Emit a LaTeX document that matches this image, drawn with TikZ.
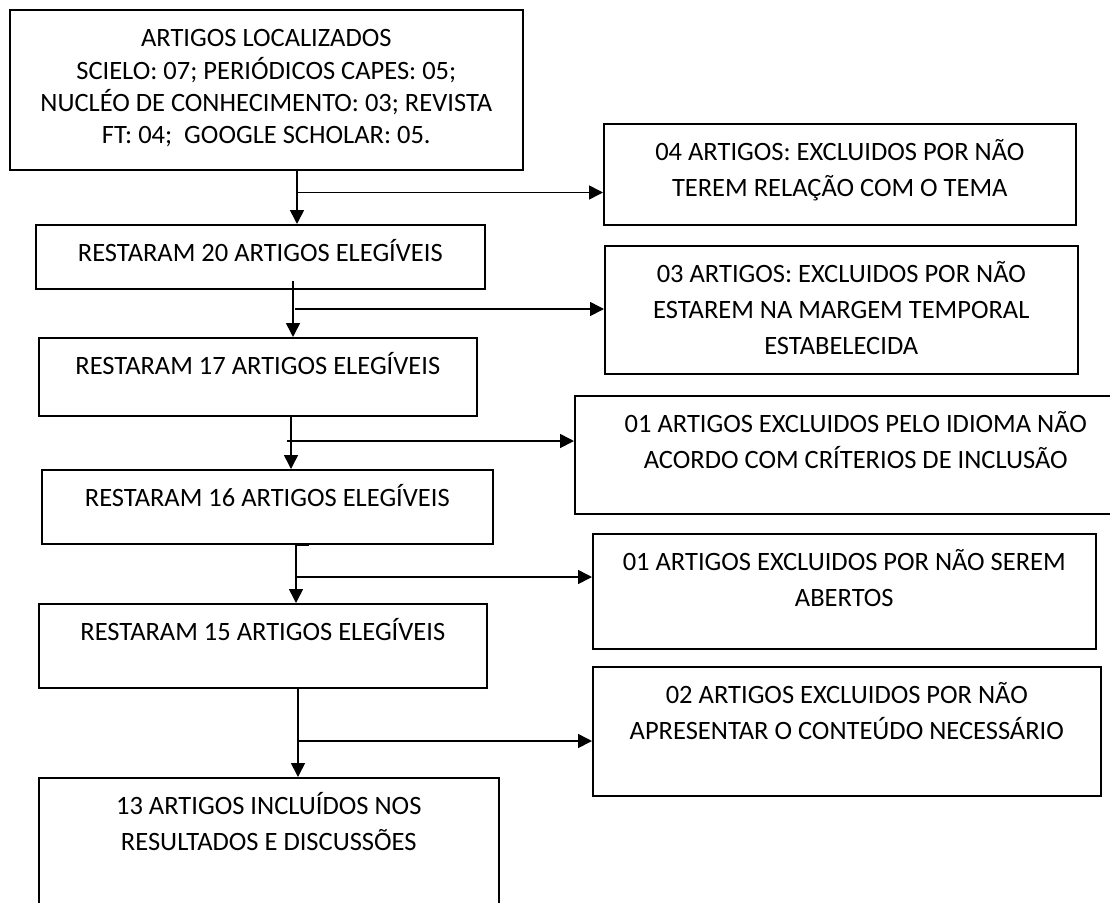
\documentclass[tikz,border=0pt]{standalone}
\usepackage{fontspec}
\setmainfont{Carlito}
\usetikzlibrary{arrows.meta}
\begin{document}
\begin{tikzpicture}[x=1pt,y=-1pt,
  lw/.style={line width=1.6pt},
  box/.style={lw, draw, rectangle, inner sep=0pt, anchor=north west},
  txt/.style={font=\fontsize{26.5}{36}\selectfont, align=center, inner sep=0pt, anchor=north, yshift=-12.3pt},
  arr/.style={lw, -{Triangle[length=14pt,width=14pt]}}]
\useasboundingbox (0,0) rectangle (1110,902);
\clip (0,0) rectangle (1110,902);
% boxes
\node[box, minimum width=513pt, minimum height=160pt] (A) at (9,9) {};
\node[box, minimum width=472pt, minimum height=101pt] (B) at (603,123) {};
\node[box, minimum width=449pt, minimum height=64pt] (C) at (35,224) {};
\node[box, minimum width=473pt, minimum height=128pt] (E) at (604,245) {};
\node[box, minimum width=438pt, minimum height=78pt] (D) at (38,337) {};
\node[box, minimum width=562pt, minimum height=118pt] (F) at (574,395) {};
\node[box, minimum width=451pt, minimum height=74pt] (G) at (41,469) {};
\node[box, minimum width=503pt, minimum height=115pt] (H) at (592,533) {};
\node[box, minimum width=448pt, minimum height=84pt] (I) at (38,603) {};
\node[box, minimum width=508pt, minimum height=129pt] (J) at (592,666) {};
\node[box, minimum width=460pt, minimum height=200pt] (K) at (38,777) {};
% texts
\node[txt, font=\fontsize{26.5}{31.5}\selectfont, yshift=-3.15pt] (At) at (A.north)
  {\strut ARTIGOS LOCALIZADOS\\\strut SCIELO: 07; PERIÓDICOS CAPES: 05;\\\strut NUCLÉO DE CONHECIMENTO: 03; REVISTA\\\strut FT: 04;\ \ GOOGLE SCHOLAR: 05.};
\node[txt] (Bt) at (B.north) {\strut 04 ARTIGOS: EXCLUIDOS POR NÃO\\\strut TEREM RELAÇÃO COM O TEMA};
\node[txt] (Ct) at (C.north) {\strut RESTARAM 20 ARTIGOS ELEGÍVEIS};
\node[txt] (Et) at (E.north) {\strut 03 ARTIGOS: EXCLUIDOS POR NÃO\\\strut ESTAREM NA MARGEM TEMPORAL\\\strut ESTABELECIDA};
\node[txt] (Dt) at (D.north) {\strut RESTARAM 17 ARTIGOS ELEGÍVEIS};
\node[txt] (Ft) at (F.north) {\strut 01 ARTIGOS EXCLUIDOS PELO IDIOMA NÃO\\\strut ACORDO COM CRÍTERIOS DE INCLUSÃO};
\node[txt] (Gt) at (G.north) {\strut RESTARAM 16 ARTIGOS ELEGÍVEIS};
\node[txt] (Ht) at (H.north) {\strut 01 ARTIGOS EXCLUIDOS POR NÃO SEREM\\\strut ABERTOS};
\node[txt] (It) at (I.north) {\strut RESTARAM 15 ARTIGOS ELEGÍVEIS};
\node[txt] (Jt) at (J.north) {\strut 02 ARTIGOS EXCLUIDOS POR NÃO\\\strut APRESENTAR O CONTEÚDO NECESSÁRIO};
\node[txt] (Kt) at (K.north) {\strut 13 ARTIGOS INCLUÍDOS NOS\\\strut RESULTADOS E DISCUSSÕES};
% connectors
\coordinate (v1) at (297,192.5);
\draw[arr] (A.south -| v1) -- (C.north -| v1);
\draw[arr] (v1) -- (v1 -| B.west);
\coordinate (v2) at (293,281);
\coordinate (h2) at (295,309);
\draw[arr] (v2) -- (v2 |- D.north);
\draw[arr] (h2) -- (h2 -| E.west);
\coordinate (v3) at (291,441);
\coordinate (h3) at (287,441);
\draw[arr] (D.south -| v3) -- (G.north -| v3);
\draw[arr] (h3) -- (h3 -| F.west);
\coordinate (v4) at (296,577);
\coordinate (s4) at (309,545);
\draw[arr] (G.south -| v4) -- (I.north -| v4);
\draw[arr] (v4) -- (v4 -| H.west);
\draw[lw] (s4 -| v4) -- (s4);
\coordinate (v5) at (298,741);
\draw[arr] (I.south -| v5) -- (K.north -| v5);
\draw[arr] (v5) -- (v5 -| J.west);
\end{tikzpicture}
\end{document}
